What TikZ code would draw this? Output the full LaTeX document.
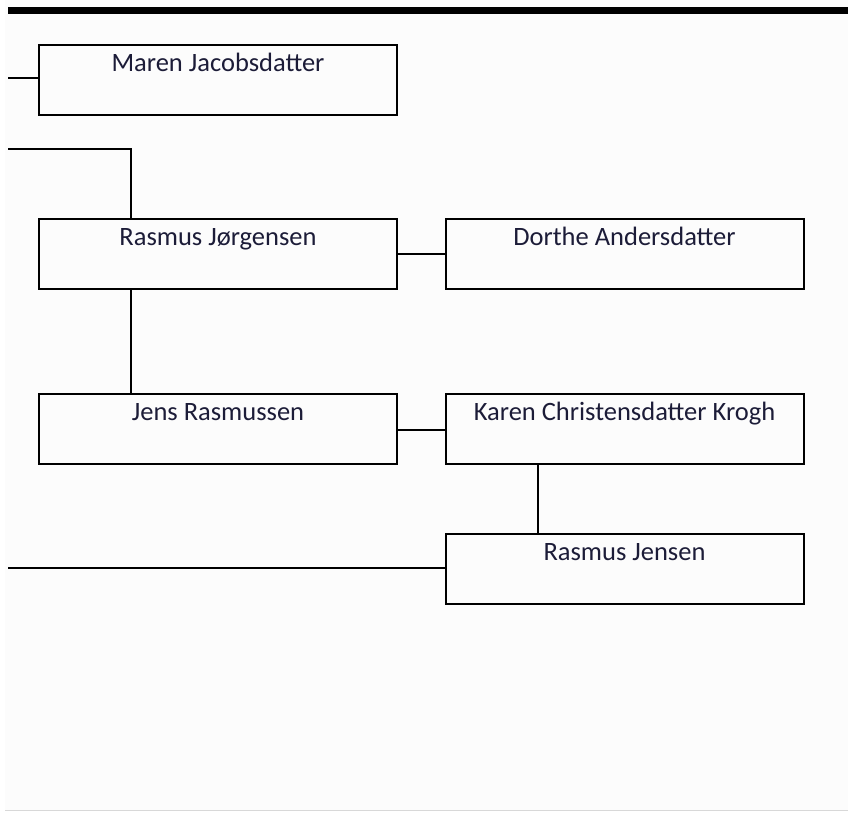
\documentclass[tikz,border=0pt]{standalone}
\usepackage{fontspec}
\setmainfont{Carlito}
\definecolor{bg}{HTML}{FCFCFC}
\definecolor{txt}{HTML}{1C1C38}
\definecolor{rule}{HTML}{D8D8D8}
\begin{document}
\begin{tikzpicture}[x=1pt,y=-1pt,
  person/.style={draw=black, line width=2pt, fill=bg, minimum width=358pt, minimum height=70pt, inner sep=0pt, outer sep=0pt},
  pname/.style={anchor=base, text=txt, font=\fontsize{26.5}{30}\selectfont, inner sep=0pt},
  link/.style={draw=black, line width=2pt}]
\useasboundingbox (0,0) rectangle (848,812);
\fill[white] (0,0) rectangle (848,812);
\fill[bg] (5,0) rectangle (848,810);
\draw[rule, line width=1.5pt] (5,810.5) -- (848,810.5);
\fill[black] (8,7) rectangle (848,14);
% boxes
\node[person] (maren) at (218,79.5) {};
\node[person] (rasmusj) at (218,254) {};
\node[person] (dorthe) at (624.5,254) {};
\node[person] (jens) at (218,429) {};
\node[person] (karen) at (624.5,429) {};
\node[person] (rasmusjen) at (624.5,568.5) {};
% names
\node[pname] at ([yshift=-26.5pt]maren.north) {Maren Jacobsdatter};
\node[pname] at ([yshift=-26.5pt]rasmusj.north) {Rasmus Jørgensen};
\node[pname] at ([yshift=-26.5pt]dorthe.north) {Dorthe Andersdatter};
\node[pname] at ([yshift=-26.5pt]jens.north) {Jens Rasmussen};
\node[pname] at ([yshift=-26.5pt]karen.north) {Karen Christensdatter Krogh};
\node[pname] at ([yshift=-26.5pt]rasmusjen.north) {Rasmus Jensen};
% free ends
\coordinate (e1) at (8,78);
\coordinate (e2) at (8,148.5);
\coordinate (e3) at (8,568);
% connectors
\draw[link] (e1) -- (e1 -| maren.west);
\draw[link] (e2) -| (rasmusj.north -| 131,0);
\draw[link] (rasmusj.east) -- (dorthe.west);
\draw[link] (rasmusj.south -| 131,0) -- (jens.north -| 131,0);
\draw[link] ([yshift=-1pt]jens.east) -- ([yshift=-1pt]karen.west);
\draw[link] (karen.south -| 538,0) -- (rasmusjen.north -| 538,0);
\draw[link] (e3) -- (e3 -| rasmusjen.west);
\end{tikzpicture}
\end{document}
